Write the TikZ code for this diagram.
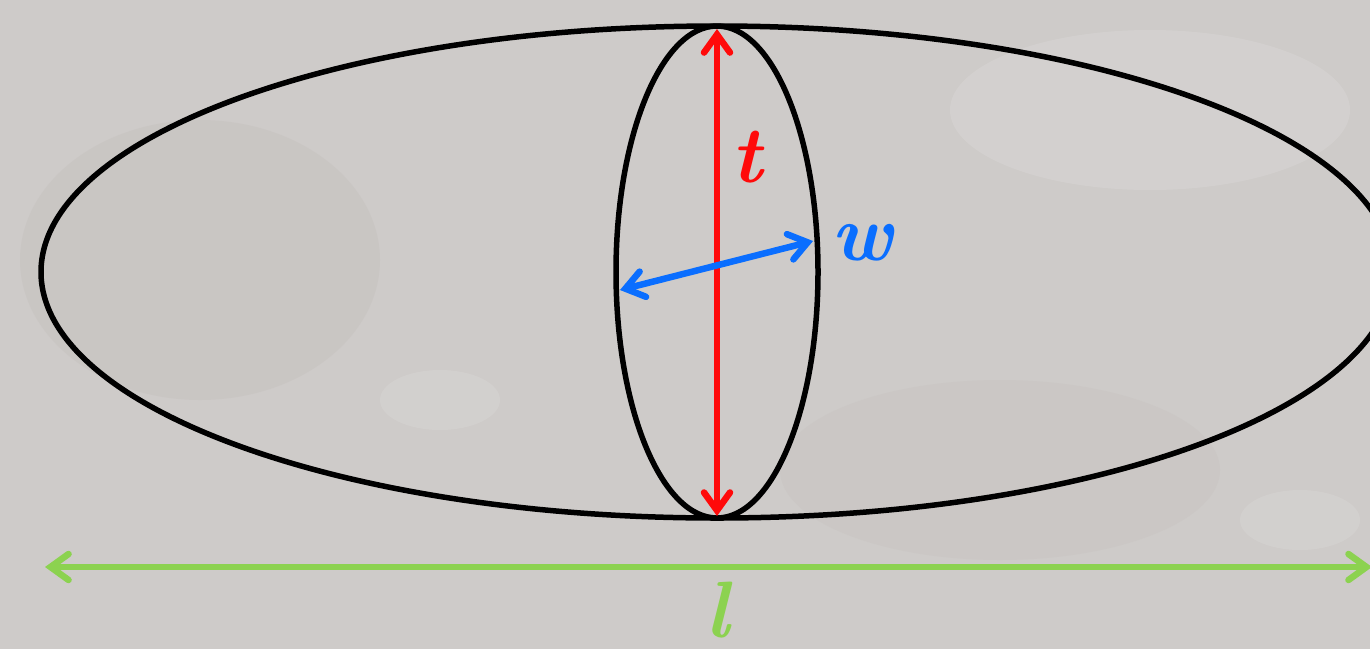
\documentclass[tikz,border=0pt]{standalone}
\usetikzlibrary{arrows.meta}
\definecolor{bg}{RGB}{206,203,201}
\definecolor{bgdark}{RGB}{190,184,180}
\definecolor{bglight}{RGB}{222,220,219}
\definecolor{tred}{RGB}{255,10,10}
\definecolor{wblue}{RGB}{10,110,255}
\definecolor{lgreen}{RGB}{140,210,80}
\tikzset{
  outline/.style={line width=5.5pt, black},
  dimarrow/.style={line width=6.5pt, line cap=round, {Straight Barb[length=18pt,width=26pt,line cap=round]}-{Straight Barb[length=18pt,width=26pt,line cap=round]}},
  lab/.style={font=\fontsize{80}{90}\selectfont\bfseries\itshape, inner sep=0pt}
}
\begin{document}
\begin{tikzpicture}[x=1pt,y=-1pt]
\useasboundingbox (0,0) rectangle (1370,649);
\clip (0,0) rectangle (1370,649);
\fill[bg] (0,0) rectangle (1370,649);
% subtle texture
\fill[bgdark, opacity=0.25] (200,260) ellipse [x radius=180, y radius=140];
\fill[bgdark, opacity=0.18] (1000,470) ellipse [x radius=220, y radius=90];
\fill[bglight, opacity=0.35] (1150,110) ellipse [x radius=200, y radius=80];
\fill[bglight, opacity=0.3] (440,400) ellipse [x radius=60, y radius=30];
\fill[bglight, opacity=0.3] (1300,520) ellipse [x radius=60, y radius=30];
% shapes
\coordinate (C) at (717,272);
\draw[outline] (C) ellipse [x radius=676, y radius=246];
\draw[outline] (C) ellipse [x radius=101, y radius=246];
% dimension points
\coordinate (tTop) at (717,29);
\coordinate (tBot) at (717,516);
\coordinate (wL) at (620,290);
\coordinate (wR) at (813,241);
\coordinate (lL) at (45,567);
\coordinate (lR) at (1372,567);
\draw[dimarrow, tred] (tBot) -- (tTop);
\draw[dimarrow, wblue] (wL) -- (wR);
\draw[dimarrow, lgreen] (lL) -- (lR);
\node[lab, text=tred] (t) at (747,157) {t};
\node[lab, text=wblue] (w) at (862,243) {w};
\node[lab, text=lgreen] (l) at (717,610) {l};
\end{tikzpicture}
\end{document}
